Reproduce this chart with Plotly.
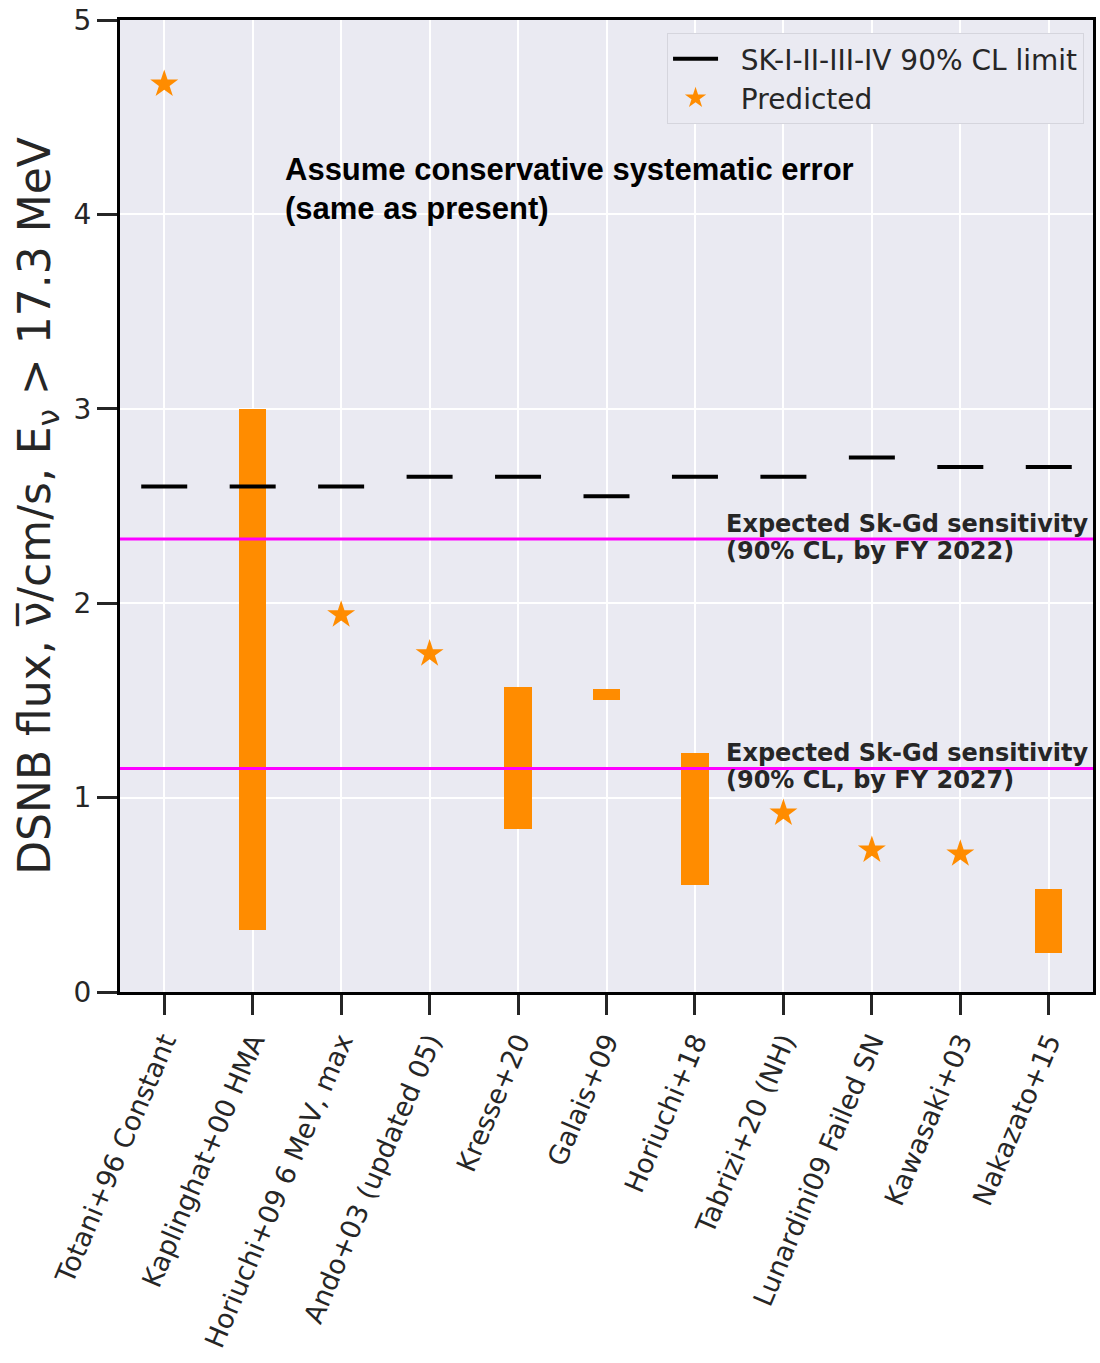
import plotly.graph_objects as go

models = ["Totani+96 Constant", "Kaplinghat+00 HMA", "Horiuchi+09 6 MeV, max",
          "Ando+03 (updated 05)", "Kresse+20", "Galais+09", "Horiuchi+18",
          "Tabrizi+20 (NH)", "Lunardini09 Failed SN", "Kawasaki+03", "Nakazato+15"]
sk_limit = [2.60, 2.60, 2.60, 2.65, 2.65, 2.55, 2.65, 2.65, 2.75, 2.70, 2.70]

star_idx = [0, 2, 3, 7, 8, 9]
star_val = [4.67, 1.94, 1.74, 0.92, 0.73, 0.71]

band_idx = [1, 4, 5, 6, 10]
band_low = [0.32, 0.84, 1.50, 0.55, 0.20]
band_high = [3.00, 1.57, 1.56, 1.23, 0.53]

sens_2022 = 2.33
sens_2027 = 1.15

ORANGE = "#FF8C00"
half_dash = 0.26
GAP = "\u00a0\u00a0"

fig = go.Figure()

# Predicted ranges as floating bars
fig.add_trace(go.Bar(
    x=band_idx, y=[h - l for h, l in zip(band_high, band_low)], base=band_low,
    width=0.31, marker=dict(color=ORANGE, line=dict(width=0)), showlegend=False,
    hoverinfo="skip"))

# SK limits as short horizontal dashes
lx, ly = [], []
for i, v in enumerate(sk_limit):
    lx += [i - half_dash, i + half_dash, None]
    ly += [v, v, None]
fig.add_trace(go.Scatter(x=lx, y=ly, mode="lines", line=dict(color="black", width=4),
                         name=GAP + "SK-I-II-III-IV 90% CL limit"))

# Predicted stars
fig.add_trace(go.Scatter(x=star_idx, y=star_val, mode="markers",
                         marker=dict(symbol="star", size=21, color=ORANGE, line=dict(width=0)),
                         name=GAP + "Predicted"))

# sensitivity lines
for v in [sens_2022, sens_2027]:
    fig.add_shape(type="line", xref="paper", x0=0, x1=1, yref="y", y0=v, y1=v,
                  line=dict(color="#FF00FF", width=3), layer="above")

ann_font = dict(family="DejaVu Sans", size=24, color="#262626")
for v, yr in [(sens_2022, "2022"), (sens_2027, "2027")]:
    fig.add_annotation(x=6.33, y=v + 0.08, xref="x", yref="y", xanchor="left", yanchor="middle",
                       text="<b>Expected Sk-Gd sensitivity</b>", showarrow=False, font=ann_font)
    fig.add_annotation(x=6.33, y=v - 0.06, xref="x", yref="y", xanchor="left", yanchor="middle",
                       text=f"<b>(90% CL, by FY {yr})</b>", showarrow=False, font=ann_font)

sys_font = dict(family="Liberation Sans", size=31, color="black")
fig.add_annotation(x=1.34, y=4.23, xref="x", yref="y", xanchor="left", yanchor="middle",
                   text="<b>Assume conservative systematic error</b>", showarrow=False, font=sys_font)
fig.add_annotation(x=1.34, y=4.03, xref="x", yref="y", xanchor="left", yanchor="middle",
                   text="<b>(same as present)</b>", showarrow=False, font=sys_font)

fig.update_layout(
    width=1100, height=1363,
    margin=dict(l=120, r=4, t=17, b=371),
    paper_bgcolor="white", plot_bgcolor="#EAEAF2",
    font=dict(family="DejaVu Sans", color="#262626"),
    bargap=0,
    legend=dict(x=0.9908, xanchor="right", y=0.9867, yanchor="top",
                bgcolor="#EAEAF2", bordercolor="#D5D5DD", borderwidth=1,
                font=dict(family="DejaVu Sans", size=28, color="#262626"),
                itemwidth=45, tracegroupgap=0),
    xaxis=dict(range=[-0.5, 10.5], tickmode="array", tickvals=list(range(len(models))),
               ticktext=models, tickangle=-67, tickfont=dict(size=27, color="#262626"),
               showgrid=True, gridcolor="white", gridwidth=2,
               ticks="outside", ticklen=20, tickwidth=3, tickcolor="#262626",
               showline=True, linecolor="black", linewidth=3, mirror=True, zeroline=False),
    yaxis=dict(range=[0, 5], tickvals=[0, 1, 2, 3, 4, 5], tickfont=dict(size=28, color="#262626"),
               showgrid=True, gridcolor="white", gridwidth=2,
               ticks="outside", ticklen=20, tickwidth=3, tickcolor="#262626",
               showline=True, linecolor="black", linewidth=3, mirror=True, zeroline=False,
               title=dict(text="DSNB flux, ν\u0305/cm/s, E<sub>ν</sub> > 17.3 MeV",
                          font=dict(family="DejaVu Sans", size=44, color="#262626"), standoff=10)),
)

fig.write_html("out.html")
